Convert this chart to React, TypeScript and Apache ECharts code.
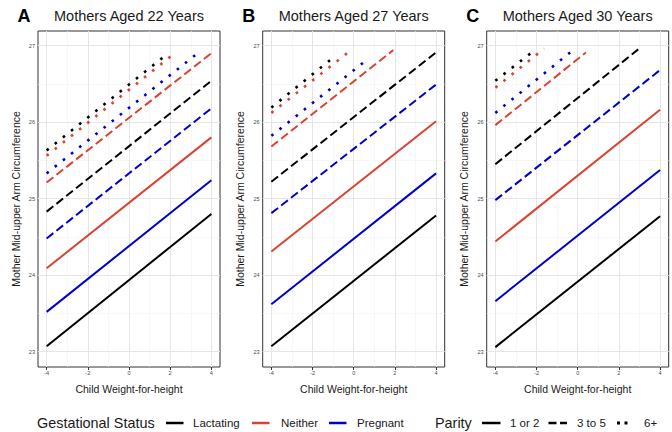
import React, { useEffect, useRef } from "react";
import * as echarts from "echarts";

const panelLetters = ["A", "B", "C"];
const panelTitles = ["Mothers Aged 22 Years", "Mothers Aged 27 Years", "Mothers Aged 30 Years"];
const statusNames = ["Lactating", "Neither", "Pregnant"];
const parityNames = ["1 or 2", "3 to 5", "6+"];
const xTicks = [-4, -2, 0, 2, 4];
const yTicks = [23, 24, 25, 26, 27];
const xMinor = [-3, -1, 1, 3];
const yMinor = [23.5, 24.5, 25.5, 26.5];

// Each array: lines for parity [1 or 2, 3 to 5, 6+]; each line = [[x start, y start], [x end, y end]]
const age22Lactating = [[[-4, 23.07], [4, 24.8]], [[-4, 24.83], [4, 26.54]], [[-4, 25.63], [1.86, 26.89]]];
const age22Neither = [[[-4, 24.09], [4, 25.8]], [[-4, 25.21], [4, 26.9]], [[-4, 25.56], [2.22, 26.9]]];
const age22Pregnant = [[[-4, 23.52], [4, 25.24]], [[-4, 24.48], [4, 26.18]], [[-4, 25.33], [3.43, 26.92]]];

const age27Lactating = [[[-4, 23.07], [4, 24.78]], [[-4, 25.22], [4, 26.91]], [[-4, 26.19], [-0.87, 26.87]]];
const age27Neither = [[[-4, 24.31], [4, 26.01]], [[-4, 25.68], [1.92, 26.94]], [[-4, 26.12], [-0.08, 26.95]]];
const age27Pregnant = [[[-4, 23.62], [4, 25.33]], [[-4, 24.81], [4, 26.49]], [[-4, 25.82], [0.67, 26.82]]];

const age30Lactating = [[[-4, 23.06], [4, 24.77]], [[-4, 25.45], [2.94, 26.95]], [[-4, 26.54], [-2.04, 26.95]]];
const age30Neither = [[[-4, 24.44], [4, 26.16]], [[-4, 25.96], [0.4, 26.91]], [[-4, 26.45], [-1.63, 26.96]]];
const age30Pregnant = [[[-4, 23.66], [4, 25.375]], [[-4, 24.98], [4, 26.68]], [[-4, 26.12], [-0.09, 26.97]]];

const panelData = [
  [age22Lactating, age22Neither, age22Pregnant],
  [age27Lactating, age27Neither, age27Pregnant],
  [age30Lactating, age30Neither, age30Pregnant],
];

const FONT = "'Liberation Sans', Arial, sans-serif";
const statusColors = ["#000000", "#DA4232", "#0000CD"];
const parityDash: any[] = ["solid", [8.5, 4], [2.6, 7.8]];
const parityWidth = [2, 2, 2.6];
const gridLefts = [38, 262.7, 486.7];
const gridWidth = 182;
const gridTop = 31;
const gridHeight = 336;

function txt(text: string, x: number, y: number, size: number, opts: any = {}) {
  const align = opts.align || "left";
  return {
    type: "text",
    x,
    y,
    z: 10,
    style: {
      text,
      fontSize: size,
      fontFamily: FONT,
      fontWeight: opts.bold ? "bold" : "normal",
      fill: opts.color || "#1A1A1A",
      align,
      textAlign: align,
      verticalAlign: "middle",
      textVerticalAlign: "middle",
    },
  };
}

function keyLine(x1: number, x2: number, y: number, color: string, dash: any, w = 2.5) {
  return {
    type: "line",
    z: 10,
    shape: { x1, y1: y, x2, y2: y },
    style: { stroke: color, lineWidth: w, lineDash: dash === "solid" ? null : dash },
  };
}

export default function App() {
  const ref = useRef<HTMLDivElement>(null);
  useEffect(() => {
    if (!ref.current) return;
    const chart = echarts.init(ref.current, null, { renderer: "svg" });
    const grids: any[] = [];
    const xAxes: any[] = [];
    const yAxes: any[] = [];
    const series: any[] = [];
    const graphics: any[] = [];

    panelData.forEach((panel, p) => {
      grids.push({
        left: gridLefts[p],
        top: gridTop,
        width: gridWidth,
        height: gridHeight,
        show: true,
        borderColor: "#333333",
        borderWidth: 1,
        backgroundColor: "transparent",
        containLabel: false,
      });
      xAxes.push({
        type: "value",
        gridIndex: p,
        min: -4.42,
        max: 4.42,
        splitLine: { show: false },
        axisLine: { show: false },
        axisTick: { show: true, customValues: xTicks, length: 3, lineStyle: { color: "#333333", width: 1 } },
        axisLabel: { customValues: xTicks, fontSize: 5.6, color: "#4D4D4D", margin: 3, fontFamily: FONT },
        name: "Child Weight-for-height",
        nameLocation: "middle",
        nameGap: 16,
        nameTextStyle: { fontSize: 10.5, color: "#1A1A1A", fontFamily: FONT },
      });
      yAxes.push({
        type: "value",
        gridIndex: p,
        min: 22.8,
        max: 27.19,
        splitLine: { show: false },
        axisLine: { show: false },
        axisTick: { show: true, customValues: yTicks, length: 3, lineStyle: { color: "#333333", width: 1 } },
        axisLabel: { customValues: yTicks, fontSize: 5.6, color: "#4D4D4D", margin: 3, fontFamily: FONT },
        name: "Mother Mid-upper Arm Circumference",
        nameLocation: "middle",
        nameGap: 17,
        nameTextStyle: { fontSize: 10.5, color: "#1A1A1A", fontFamily: FONT },
      });
      // gridlines
      const gl = (v: number, axis: "xAxis" | "yAxis", major: boolean) => ({
        [axis]: v,
        lineStyle: { color: major ? "#E6E6E6" : "#F1F1F1", width: major ? 1 : 0.6, type: "solid" },
      });
      series.push({
        type: "line",
        xAxisIndex: p,
        yAxisIndex: p,
        data: [],
        z: 1,
        silent: true,
        markLine: {
          z: 1,
          silent: true,
          symbol: ["none", "none"],
          label: { show: false },
          animation: false,
          data: [
            ...xMinor.map((v) => gl(v, "xAxis", false)),
            ...yMinor.map((v) => gl(v, "yAxis", false)),
            ...xTicks.map((v) => gl(v, "xAxis", true)),
            ...yTicks.map((v) => gl(v, "yAxis", true)),
          ],
        },
      });
      panel.forEach((statusLines, s) => {
        statusLines.forEach((line, k) => {
          series.push({
            type: "line",
            name: statusNames[s] + " / " + parityNames[k],
            xAxisIndex: p,
            yAxisIndex: p,
            data: line,
            symbol: "none",
            z: 8,
            lineStyle: { color: statusColors[s], width: parityWidth[k], type: parityDash[k] },
          });
        });
      });
      const cx = gridLefts[p] + gridWidth / 2;
      graphics.push(txt(panelTitles[p], cx, 16, 14.5, { align: "center" }));
      graphics.push(txt(panelLetters[p], gridLefts[p] - 14, 16, 18, { align: "center", bold: true, color: "#000000" }));
    });

    // legend
    const ly = 423;
    graphics.push(txt("Gestational Status", 37, ly, 14.4));
    const statusKeyX = [166, 252, 329];
    const statusLabelX = [193, 281, 357];
    statusNames.forEach((n, i) => {
      graphics.push(keyLine(statusKeyX[i], statusKeyX[i] + 17.5, ly, statusColors[i], "solid"));
      graphics.push(txt(n, statusLabelX[i], ly, 11.5));
    });
    graphics.push(txt("Parity", 435, ly, 14.4));
    const parityKeyX = [482, 548.5, 617];
    const parityLabelX = [510, 577, 644];
    const keyDash: any[] = ["solid", [8, 3.5], [3, 4.5]];
    parityNames.forEach((n, i) => {
      graphics.push(keyLine(parityKeyX[i], parityKeyX[i] + (i === 2 ? 11 : 18.5), ly, "#000000", keyDash[i], i === 2 ? 3 : 2.5));
      graphics.push(txt(n, parityLabelX[i], ly, 11.5));
    });

    chart.setOption({
      animation: false,
      backgroundColor: "#FFFFFF",
      textStyle: { fontFamily: FONT },
      grid: grids,
      xAxis: xAxes,
      yAxis: yAxes,
      series,
      graphic: graphics,
    });
    return () => chart.dispose();
  }, []);
  return <div ref={ref} style={{ position: "absolute", left: 0, top: 0, width: 672, height: 432 }} />;
}
